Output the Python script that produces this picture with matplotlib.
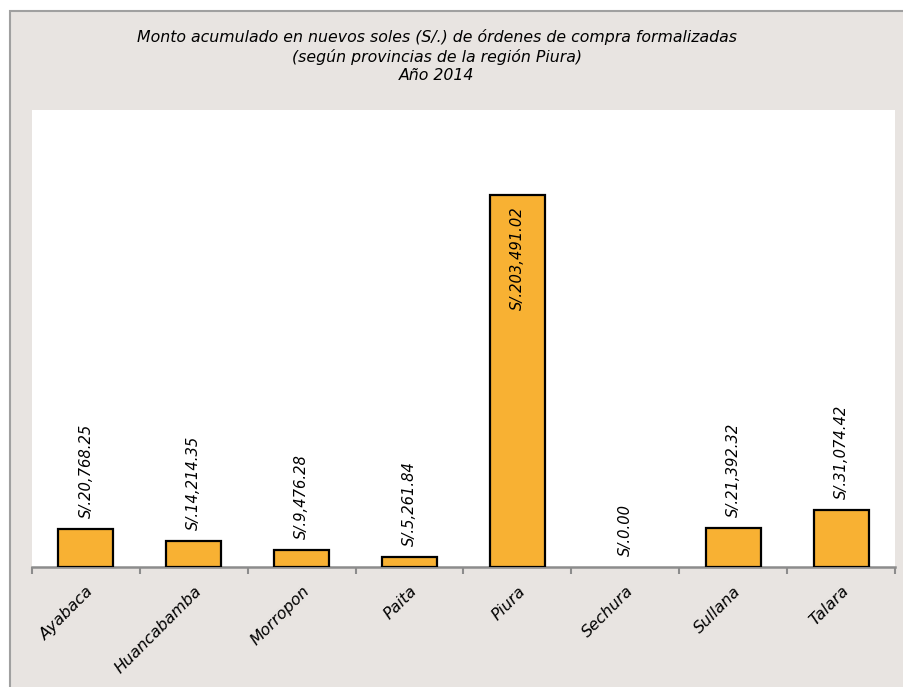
import matplotlib.pyplot as plt
from matplotlib.patches import Rectangle

provincias = ["Ayabaca", "Huancabamba", "Morropon", "Paita", "Piura", "Sechura", "Sullana", "Talara"]
montos = [20768.25, 14214.35, 9476.28, 5261.84, 203491.02, 0.00, 21392.32, 31074.42]

W, H = 904, 687
fig = plt.figure(figsize=(W / 100, H / 100), dpi=100)
fig.patch.set_facecolor("white")

# fondo beige con borde gris
fig.patches.append(Rectangle((10 / W, -0.01), 1.0, 1 - 11 / H + 0.01, transform=fig.transFigure,
                             facecolor="#e8e4e1", edgecolor="#a0a0a0", linewidth=1.5, zorder=-5))

ax = fig.add_axes([32 / W, (H - 567) / H, (895 - 32) / W, (567 - 110) / H])
ax.set_zorder(2)
ax.set_facecolor("white")

x = range(len(provincias))
anchos_borde = [1.6 if v > 0 else 0 for v in montos]
ax.bar(x, montos, width=0.51, color="#f8b133", edgecolor="black", linewidth=anchos_borde, zorder=3)

ax.set_xlim(-0.5, len(provincias) - 0.5)
ax.set_ylim(0, 250000)
ax.set_yticks([])

for s in ["top", "right", "left"]:
    ax.spines[s].set_visible(False)
ax.spines["bottom"].set_color("#8c8c8c")
ax.spines["bottom"].set_linewidth(1.8)

ax.set_xticks(list(x))
ax.set_xticklabels(provincias, rotation=45, ha="right", rotation_mode="anchor",
                   fontsize=11.5, fontstyle="italic")
ax.tick_params(axis="x", which="major", length=0, pad=12)
ax.set_xticks([i - 0.5 for i in range(len(provincias) + 1)], minor=True)
ax.tick_params(axis="x", which="minor", length=5, width=1.5, color="#8c8c8c")

for i, v in enumerate(montos):
    txt = "S/.{:,.2f}".format(v)
    if v > 150000:
        ax.annotate(txt, (i, v), xytext=(0, -8), textcoords="offset points",
                    rotation=90, ha="center", va="top", fontsize=10.6, fontstyle="italic")
    else:
        ax.annotate(txt, (i, v), xytext=(0, 8), textcoords="offset points",
                    rotation=90, ha="center", va="bottom", fontsize=10.6, fontstyle="italic")

fig.text(437 / W, 1 - 56 / H,
         "Monto acumulado en nuevos soles (S/.) de órdenes de compra formalizadas\n"
         "(según provincias de la región Piura)\nAño 2014",
         ha="center", va="center", fontsize=11.3, fontstyle="italic", linespacing=1.25)

fig.savefig("out.png", dpi=100)
